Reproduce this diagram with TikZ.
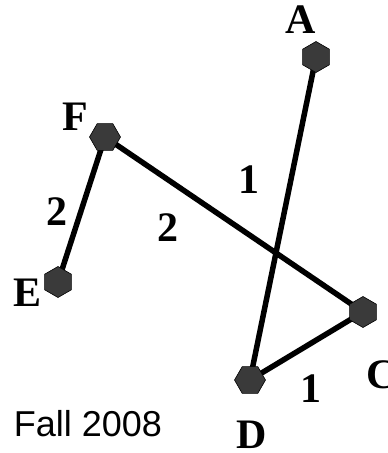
\documentclass[tikz,border=0pt]{standalone}
\usepackage{fontspec}
\setmainfont{Liberation Serif}
\newfontfamily\labsans{Liberation Sans}
\usetikzlibrary{shapes.geometric,backgrounds}
\definecolor{nodegray}{HTML}{3A3A3A}
\begin{document}
\begin{tikzpicture}[x=1pt,y=-1pt,
  vert/.style={regular polygon, regular polygon sides=6, minimum size=31pt, inner sep=0pt, fill=nodegray, draw=black, line width=0.6pt},
  lab/.style={inner sep=0pt, font=\fontsize{42}{48}\selectfont\bfseries},
  edge/.style={line width=5.5pt}]
\useasboundingbox (0,0) rectangle (388,453);
\clip (0,0) rectangle (388,453);
\node[vert, shape border rotate=90] (A) at (316,57) {};
\node[vert] (F) at (105,137) {};
\node[vert, shape border rotate=90] (E) at (58,282) {};
\node[vert, shape border rotate=90] (C) at (363,312) {};
\node[vert] (D) at (250,380) {};
\begin{scope}[on background layer]
\draw[edge] (A.center) -- (D.center);
\draw[edge] (F.center) -- (C.center);
\draw[edge] (F.center) -- (E.center);
\draw[edge] (D.center) -- (C.center);
\end{scope}
\node[lab] (lA) at (301,20) {A};
\node[lab] (lF) at (75,117) {F};
\node[lab] (lE) at (28,293) {E};
\node[lab, anchor=west] (lC) at (366,375) {C};
\node[lab] (lD) at (252,435) {D};
\node[lab] (w1) at (248.5,180) {1};
\node[lab] (w2) at (167.5,228) {2};
\node[lab] (w3) at (57,212) {2};
\node[lab] (w4) at (311,389) {1};
\node[inner sep=0pt, font=\labsans\fontsize{36}{42}\selectfont] (fall) at (88,424) {Fall 2008};
\end{tikzpicture}
\end{document}
